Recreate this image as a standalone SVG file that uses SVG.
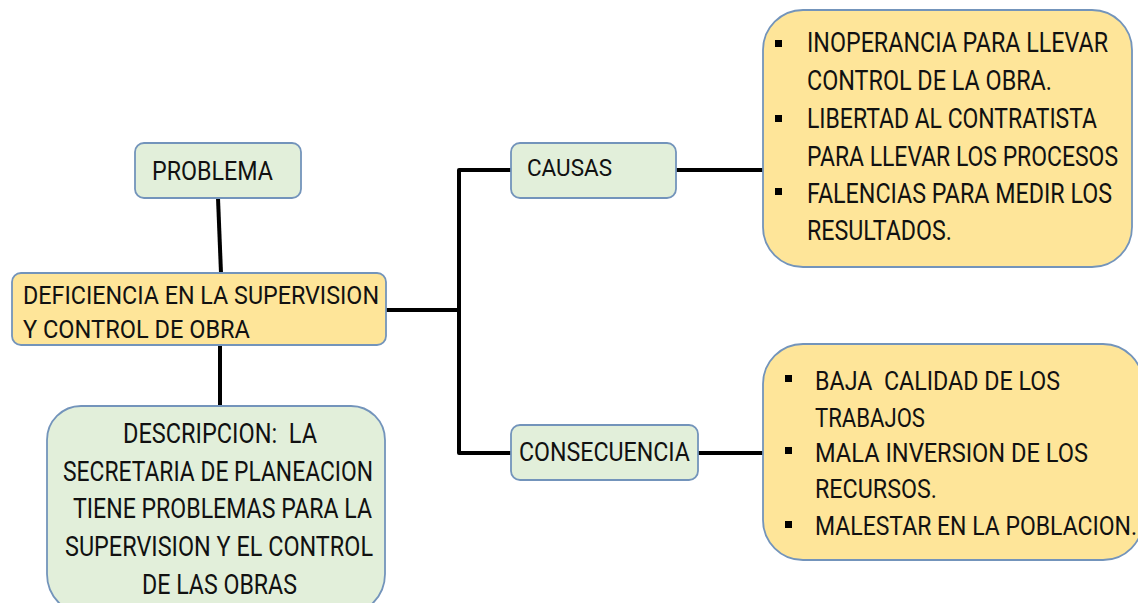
<svg xmlns="http://www.w3.org/2000/svg" width="1138" height="603" viewBox="0 0 1138 603">
<style>
.g{fill:#e2efda;stroke:#7394bb;stroke-width:1.8}
.y{fill:#fee599;stroke:#7394bb;stroke-width:1.8}
text{font-family:"Liberation Sans Narrow",Roboto,"Liberation Sans",sans-serif;fill:#111}
.c{stroke:#000;stroke-width:4;fill:none;stroke-linejoin:round}
.b{fill:#000}
</style>
<rect width="1138" height="603" fill="#fff"/>
<g id="connectors">
<path class="c" d="M218 198 L221 273"/>
<path class="c" d="M220 345 L220 407"/>
<path class="c" d="M386 310 H459 M511 170 H459 V453 H511"/>
<path class="c" d="M676 170 H764"/>
<path class="c" d="M698 453 H764"/>
</g>
<g id="problema">
<rect class="g" x="135" y="143" width="166" height="55" rx="9"/>
<text x="152" y="180" font-size="25" textLength="121" lengthAdjust="spacingAndGlyphs">PROBLEMA</text>
</g>
<g id="deficiencia">
<rect class="y" x="12" y="273" width="374" height="72" rx="9"/>
<text x="23" y="304" font-size="26.5" textLength="356" lengthAdjust="spacingAndGlyphs">DEFICIENCIA EN LA SUPERVISION</text>
<text x="23" y="338" font-size="26.5" textLength="227" lengthAdjust="spacingAndGlyphs">Y CONTROL DE OBRA</text>
</g>
<g id="descripcion">
<path class="g" d="M81 406 H351 A34 34 0 0 1 385 440 V574 A41 41 0 0 1 344 615 H88 A41 41 0 0 1 47 574 V440 A34 34 0 0 1 81 406 Z"/>
<text x="123" y="443" font-size="28" textLength="194" lengthAdjust="spacingAndGlyphs" xml:space="preserve">DESCRIPCION:  LA</text>
<text x="63" y="481" font-size="28" textLength="310" lengthAdjust="spacingAndGlyphs">SECRETARIA DE PLANEACION</text>
<text x="73" y="518" font-size="28" textLength="299" lengthAdjust="spacingAndGlyphs">TIENE PROBLEMAS PARA LA</text>
<text x="65" y="556" font-size="28" textLength="308" lengthAdjust="spacingAndGlyphs">SUPERVISION Y EL CONTROL</text>
<text x="142" y="594" font-size="28" textLength="155" lengthAdjust="spacingAndGlyphs">DE LAS OBRAS</text>
</g>
<g id="causas">
<rect class="g" x="511" y="143" width="165" height="55" rx="9"/>
<text x="527" y="176" font-size="24" textLength="85" lengthAdjust="spacingAndGlyphs">CAUSAS</text>
</g>
<g id="consecuencia">
<rect class="g" x="511" y="425" width="187" height="55" rx="9"/>
<text x="519" y="461" font-size="25" textLength="171" lengthAdjust="spacingAndGlyphs">CONSECUENCIA</text>
</g>
<g id="causas-detalle">
<rect class="y" x="763" y="10" width="369" height="257" rx="40"/>
<rect class="b" x="775" y="40" width="7" height="7"/>
<rect class="b" x="775" y="115" width="7" height="7"/>
<rect class="b" x="775" y="188" width="7" height="7"/>
<text x="807" y="52" font-size="28" textLength="301" lengthAdjust="spacingAndGlyphs">INOPERANCIA PARA LLEVAR</text>
<text x="807" y="90" font-size="28" textLength="245" lengthAdjust="spacingAndGlyphs">CONTROL DE LA OBRA.</text>
<text x="807" y="128" font-size="28" textLength="290" lengthAdjust="spacingAndGlyphs">LIBERTAD AL CONTRATISTA</text>
<text x="807" y="166" font-size="28" textLength="311" lengthAdjust="spacingAndGlyphs">PARA LLEVAR LOS PROCESOS</text>
<text x="807" y="203" font-size="28" textLength="305" lengthAdjust="spacingAndGlyphs">FALENCIAS PARA MEDIR LOS</text>
<text x="807" y="240" font-size="28" textLength="145" lengthAdjust="spacingAndGlyphs">RESULTADOS.</text>
</g>
<g id="consecuencia-detalle">
<rect class="y" x="763" y="344" width="380" height="216" rx="40"/>
<rect class="b" x="785" y="375" width="7" height="7"/>
<rect class="b" x="785" y="447" width="7" height="7"/>
<rect class="b" x="785" y="521" width="7" height="7"/>
<text x="815" y="390" font-size="26" textLength="245" lengthAdjust="spacingAndGlyphs" xml:space="preserve">BAJA  CALIDAD DE LOS</text>
<text x="815" y="427" font-size="26" textLength="110" lengthAdjust="spacingAndGlyphs">TRABAJOS</text>
<text x="815" y="462" font-size="26" textLength="273" lengthAdjust="spacingAndGlyphs">MALA INVERSION DE LOS</text>
<text x="815" y="498" font-size="26" textLength="122" lengthAdjust="spacingAndGlyphs">RECURSOS.</text>
<text x="815" y="535" font-size="26" textLength="322" lengthAdjust="spacingAndGlyphs">MALESTAR EN LA POBLACION.</text>
</g>
</svg>
